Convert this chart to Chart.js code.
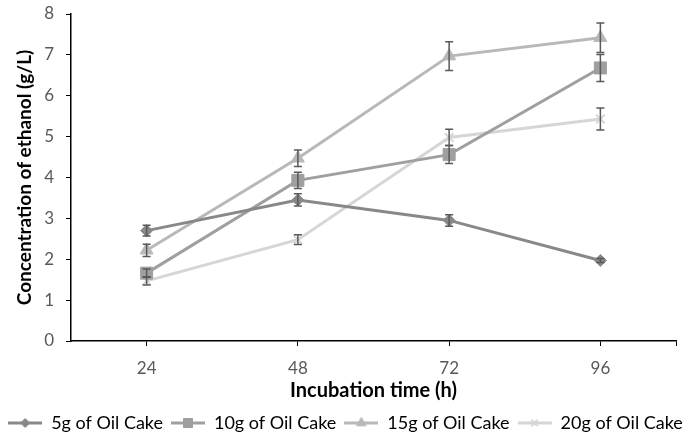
<!DOCTYPE html>
<html>
<head>
<meta charset="utf-8">
<script src="https://cdn.jsdelivr.net/npm/chart.js@4/dist/chart.umd.min.js"></script>
<style>
html,body{margin:0;padding:0;background:#fff;}
#wrap{width:691px;height:435px;position:relative;}
</style>
</head>
<body>
<div id="wrap"><canvas id="c" width="691" height="435"></canvas></div>
<script>
const hours = [24, 48, 72, 96];
const seriesNames = ['5g of Oil Cake', '10g of Oil Cake', '15g of Oil Cake', '20g of Oil Cake'];
const oil5 = [2.70, 3.45, 2.95, 1.97];
const oil5Err = [0.13, 0.15, 0.14, 0.05];
const oil10 = [1.66, 3.93, 4.56, 6.68];
const oil10Err = [0.10, 0.20, 0.22, 0.33];
const oil15 = [2.22, 4.47, 6.97, 7.42];
const oil15Err = [0.15, 0.20, 0.35, 0.36];
const oil20 = [1.47, 2.48, 4.98, 5.43];
const oil20Err = [0.10, 0.12, 0.20, 0.27];
const yTicks = [0, 1, 2, 3, 4, 5, 6, 7, 8];

const colors = ['#888888', '#9f9f9f', '#b8b8b8', '#d6d6d6'];
const styles = ['rectRot', 'rect', 'triangle', 'crossRot'];
const radii = [6, 8.5, 7.5, 6];
const FONT = 'Lato, "Open Sans", sans-serif';

const values = [oil5, oil10, oil15, oil20];
const errs = [oil5Err, oil10Err, oil15Err, oil20Err];

const ICON_W = 34;
function legendIcon(i) {
  const cv = document.createElement('canvas');
  cv.width = ICON_W; cv.height = 16;
  const ctx = cv.getContext('2d');
  ctx.strokeStyle = colors[i];
  ctx.fillStyle = colors[i];
  ctx.lineWidth = 3;
  ctx.beginPath(); ctx.moveTo(0, 8); ctx.lineTo(ICON_W, 8); ctx.stroke();
  ctx.lineWidth = styles[i] === 'crossRot' ? 2 : 1;
  Chart.helpers.drawPoint(ctx, {
    pointStyle: styles[i], radius: radii[i] * 0.75, borderWidth: ctx.lineWidth
  }, ICON_W / 2, 8);
  return cv;
}

const errorBars = {
  id: 'errorBars',
  afterDatasetsDraw(chart) {
    const ctx = chart.ctx;
    const xs = chart.scales.x, ys = chart.scales.y;
    ctx.save();
    ctx.strokeStyle = '#595959';
    ctx.lineWidth = 1.5;
    chart.data.datasets.forEach((ds, di) => {
      ds.data.forEach((p, pi) => {
        const e = errs[di][pi];
        const x = xs.getPixelForValue(p.x);
        const y1 = ys.getPixelForValue(p.y + e);
        const y2 = ys.getPixelForValue(p.y - e);
        ctx.beginPath();
        ctx.moveTo(x, y1); ctx.lineTo(x, y2);
        ctx.moveTo(x - 4, y1); ctx.lineTo(x + 4, y1);
        ctx.moveTo(x - 4, y2); ctx.lineTo(x + 4, y2);
        ctx.stroke();
      });
    });
    ctx.restore();
  }
};

const datasets = values.map((vals, i) => ({
  label: seriesNames[i],
  data: hours.map((h, j) => ({ x: h, y: vals[j] })),
  borderColor: colors[i],
  backgroundColor: colors[i],
  borderWidth: 3,
  pointStyle: styles[i],
  pointRadius: radii[i],
  pointBorderWidth: styles[i] === 'crossRot' ? 2 : 1,
  pointBorderColor: colors[i],
  pointBackgroundColor: colors[i],
  tension: 0
}));

new Chart(document.getElementById('c'), {
  type: 'line',
  data: { datasets },
  plugins: [errorBars],
  options: {
    responsive: false,
    animation: false,
    layout: { padding: { top: 14, right: 0, left: 0, bottom: -7 } },
    plugins: {
      legend: {
        position: 'bottom',
        labels: {
          usePointStyle: true,
          pointStyleWidth: ICON_W,
          padding: 8,
          color: '#000',
          font: { family: FONT, size: 18 },
          generateLabels(chart) {
            return chart.data.datasets.map((ds, i) => ({
              text: ds.label,
              pointStyle: legendIcon(i),
              fillStyle: colors[i],
              strokeStyle: colors[i],
              lineWidth: 0,
              hidden: false,
              datasetIndex: i,
              fontColor: '#000'
            }));
          }
        }
      },
      tooltip: { enabled: false }
    },
    scales: {
      x: {
        type: 'linear',
        min: 12, max: 108,
        afterBuildTicks(scale) {
          scale.ticks = hours.concat([108]).map(v => ({ value: v }));
        },
        afterFit(scale) { scale.height = 65; scale.paddingLeft = 0; scale.paddingRight = 0; },
        border: { color: '#000', width: 1.5 },
        grid: { drawOnChartArea: false, drawTicks: true, tickLength: 5, color: '#000', lineWidth: 1 },
        ticks: {
          color: '#595959',
          font: { family: FONT, size: 17 },
          padding: 12,
          maxRotation: 0,
          autoSkip: false,
          callback: (v) => hours.includes(v) ? String(v) : ''
        },
        title: {
          display: true,
          text: 'Incubation time (h)',
          color: '#000',
          font: { family: FONT, size: 20, weight: 'bold' },
          padding: { top: 0, bottom: 3 }
        }
      },
      y: {
        min: 0, max: 8,
        afterBuildTicks(scale) {
          scale.ticks = yTicks.map(v => ({ value: v }));
        },
        afterFit(scale) { scale.width = 71; scale.paddingTop = 0; scale.paddingBottom = 0; },
        border: { color: '#000', width: 1.5 },
        grid: { drawOnChartArea: false, drawTicks: true, tickLength: 5, color: '#000', lineWidth: 1 },
        ticks: {
          color: '#595959',
          font: { family: FONT, size: 17 },
          padding: 12
        },
        title: {
          display: true,
          text: 'Concentration of ethanol (g/L)',
          color: '#000',
          font: { family: FONT, size: 19, weight: 'bold' },
          padding: { top: 13, bottom: 0 }
        }
      },
      rightSpace: {
        type: 'linear',
        position: 'right',
        display: true,
        afterFit(scale) { scale.width = 15; scale.paddingTop = 0; scale.paddingBottom = 0; },
        grid: { display: false, drawTicks: false },
        border: { display: false },
        ticks: { display: false }
      }
    }
  }
});
</script>
</body>
</html>
